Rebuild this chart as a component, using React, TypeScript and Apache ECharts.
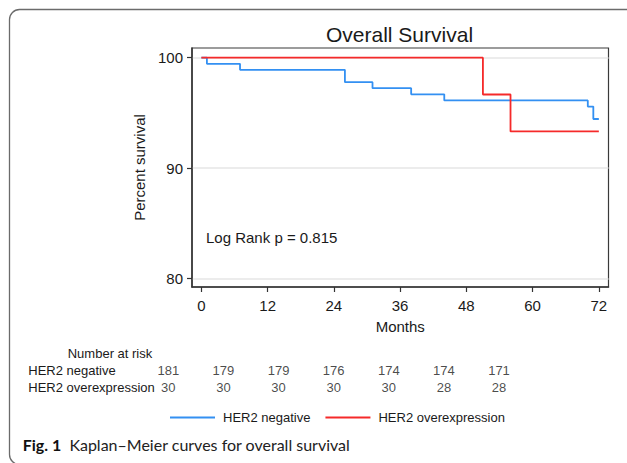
import React, { useEffect, useRef } from "react";
import * as echarts from "echarts";

const xTicks = [0, 12, 24, 36, 48, 60, 72];
const yTicks = [80, 90, 100];
const negTimes = [0, 1, 7, 26, 31, 38, 44, 70, 71, 72];
const negSurv = [100, 99.45, 98.9, 97.79, 97.24, 96.69, 96.13, 95.58, 94.45, 94.45];
const overTimes = [0, 51, 56, 72];
const overSurv = [100, 96.67, 93.33, 93.33];
const riskTimes = [0, 12, 24, 36, 48, 60, 72];
const riskGroups = ["HER2 negative", "HER2 overexpression"];
const riskNeg = [181, 179, 179, 176, 174, 174, 171];
const riskOver = [30, 30, 30, 30, 30, 28, 28];

const FONT = "'Liberation Sans', Arial, sans-serif";
const CAP_FONT = "Lato, 'Open Sans', sans-serif";
const TXT = "#1a1a1a";
const BLUE = "#3390f2";
const RED = "#f52a2a";

export default function App() {
  const ref = useRef<HTMLDivElement>(null);
  useEffect(() => {
    document.body.style.margin = "0";
    const chart = echarts.init(ref.current!, null, { renderer: "svg" });
    const riskLabel = {
      show: true,
      position: "inside",
      formatter: (p: any) => String(p.value[2]),
      fontFamily: FONT,
      fontSize: 13,
      color: TXT,
    };
    const option: any = {
      animation: false,
      backgroundColor: "#ffffff",
      textStyle: { fontFamily: FONT, color: TXT },
      title: {
        text: "Overall Survival",
        left: 326,
        top: 24,
        padding: 0,
        textStyle: { fontFamily: FONT, fontSize: 21, fontWeight: "normal", color: TXT },
      },
      legend: {
        data: ["HER2 negative", "HER2 overexpression"],
        left: 170,
        top: 411,
        padding: 0,
        icon: "rect",
        itemWidth: 45,
        itemHeight: 2,
        itemGap: 15,
        textStyle: { fontFamily: FONT, fontSize: 13, color: TXT, padding: [0, 0, 0, 3] },
      },
      grid: [
        {
          left: 192,
          top: 48,
          right: 18.5,
          bottom: 176,
          show: true,
          borderColor: "#3a3a3a",
          borderWidth: 1.2,
          backgroundColor: "#ffffff",
        },
        { left: 168.3, width: 330.7, top: 362.2, height: 34 },
      ],
      xAxis: [
        {
          type: "value",
          gridIndex: 0,
          min: -1.7,
          max: 73.75,
          name: "Months",
          nameLocation: "middle",
          nameGap: 32,
          nameTextStyle: { fontFamily: FONT, fontSize: 15, color: TXT },
          axisLine: { show: true, onZero: false, lineStyle: { color: "#333", width: 1.5 } },
          axisTick: { show: true, customValues: xTicks, length: 5, lineStyle: { color: "#333", width: 1.2 } },
          axisLabel: { customValues: xTicks, margin: 11, fontFamily: FONT, fontSize: 15, color: TXT },
          splitLine: { show: false },
        },
        { type: "value", gridIndex: 1, min: 0, max: 72, show: false },
      ],
      yAxis: [
        {
          type: "value",
          gridIndex: 0,
          min: 79.24,
          max: 100.88,
          name: "Percent survival",
          nameLocation: "middle",
          nameGap: 43,
          nameTextStyle: { fontFamily: FONT, fontSize: 15, color: TXT },
          axisLine: { show: true, onZero: false, lineStyle: { color: "#333", width: 1.5 } },
          axisTick: { show: true, customValues: yTicks, length: 5, lineStyle: { color: "#333", width: 1.2 } },
          axisLabel: { customValues: yTicks, margin: 9, fontFamily: FONT, fontSize: 15, color: TXT },
          splitLine: { show: true, lineStyle: { color: "#e6e6e6", width: 1.5 } },
        },
        {
          type: "category",
          gridIndex: 1,
          data: riskGroups,
          inverse: true,
          axisLine: { show: false },
          axisTick: { show: false },
          axisLabel: { align: "left", margin: 140, fontFamily: FONT, fontSize: 13, color: TXT },
        },
      ],
      series: [
        {
          name: "HER2 negative",
          type: "line",
          step: "end",
          xAxisIndex: 0,
          yAxisIndex: 0,
          symbol: "none",
          color: BLUE,
          lineStyle: { color: BLUE, width: 1.8 },
          data: negTimes.map((t, i) => [t, negSurv[i]]),
        },
        {
          name: "HER2 overexpression",
          type: "line",
          step: "end",
          xAxisIndex: 0,
          yAxisIndex: 0,
          symbol: "none",
          color: RED,
          lineStyle: { color: RED, width: 1.8 },
          data: overTimes.map((t, i) => [t, overSurv[i]]),
        },
        {
          name: "risk-neg",
          type: "scatter",
          xAxisIndex: 1,
          yAxisIndex: 1,
          symbolSize: 1,
          itemStyle: { color: "rgba(0,0,0,0)" },
          label: riskLabel,
          data: riskTimes.map((t, i) => [t, riskGroups[0], riskNeg[i]]),
        },
        {
          name: "risk-over",
          type: "scatter",
          xAxisIndex: 1,
          yAxisIndex: 1,
          symbolSize: 1,
          itemStyle: { color: "rgba(0,0,0,0)" },
          label: riskLabel,
          data: riskTimes.map((t, i) => [t, riskGroups[1], riskOver[i]]),
        },
      ],
      graphic: [
        {
          type: "rect",
          shape: { x: 9.5, y: 9.5, width: 680, height: 455, r: 10 },
          style: { fill: "none", stroke: "#6b6b6b", lineWidth: 1.3 },
          silent: true,
          z: 100,
        },
        {
          type: "text",
          x: 110,
          y: 353.3,
          style: {
            text: "Number at risk",
            fontFamily: FONT,
            fontSize: 13,
            fill: TXT,
            textAlign: "center",
            textVerticalAlign: "middle",
          },
        },
        {
          type: "text",
          x: 206,
          y: 237.7,
          z: 50,
          style: {
            text: "Log Rank p = 0.815",
            fontFamily: FONT,
            fontSize: 15,
            fill: TXT,
            textAlign: "left",
            textVerticalAlign: "middle",
          },
        },
        {
          type: "text",
          x: 22.7,
          y: 444,
          style: {
            text: "{b|Fig. 1}  {r|Kaplan–Meier curves for overall survival}",
            textVerticalAlign: "middle",
            rich: {
              b: { fontFamily: CAP_FONT, fontWeight: "bold", fontSize: 16, fill: "#111" },
              r: { fontFamily: CAP_FONT, fontSize: 16, fill: "#222" },
            },
            fontFamily: CAP_FONT,
            fontSize: 16,
          },
        },
      ],
    };
    chart.setOption(option);
    return () => chart.dispose();
  }, []);
  return <div ref={ref} style={{ width: 627, height: 463 }} />;
}
